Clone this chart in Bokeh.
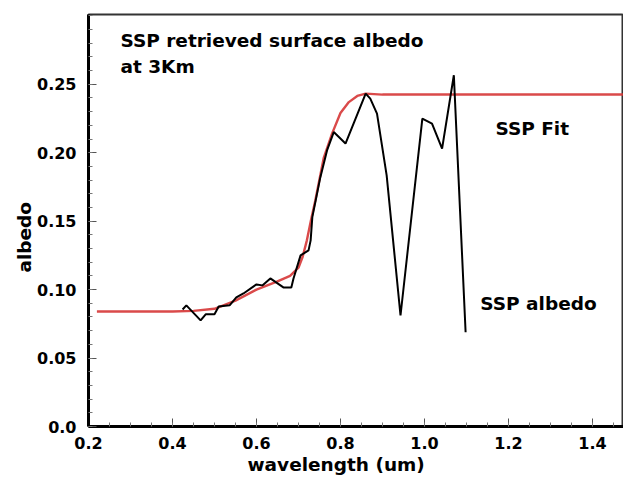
from bokeh.plotting import figure
from bokeh.models import Label, FixedTicker, Range1d, Title
from bokeh.embed import file_html
from bokeh.resources import INLINE

# SSP retrieved albedo (black)
albedo_wl = [0.424, 0.433, 0.467, 0.479, 0.500, 0.510, 0.536, 0.552, 0.569, 0.600,
             0.614, 0.633, 0.664, 0.683, 0.688, 0.705, 0.724, 0.729, 0.733, 0.752,
             0.768, 0.784, 0.812, 0.860, 0.871, 0.887, 0.910, 0.943, 0.995, 1.018,
             1.042, 1.070, 1.098]
albedo_val = [0.0855, 0.0885, 0.0775, 0.082, 0.082, 0.0877, 0.0885, 0.0943, 0.0972, 0.1038,
              0.1031, 0.1082, 0.1016, 0.1016, 0.108, 0.125, 0.1287, 0.136, 0.153, 0.182,
              0.2017, 0.2151, 0.2067, 0.2432, 0.2395, 0.2286, 0.1835, 0.0811, 0.2249, 0.2213,
              0.203, 0.2566, 0.0689]

# SSP fit (red)
fit_wl = [0.22, 0.30, 0.40, 0.45, 0.50, 0.55, 0.60, 0.65, 0.68, 0.70, 0.71, 0.72, 0.73,
          0.74, 0.76, 0.78, 0.80, 0.82, 0.84, 0.86, 0.90, 1.00, 1.20, 1.48]
fit_val = [0.084, 0.084, 0.084, 0.0845, 0.086, 0.092, 0.100, 0.106, 0.110, 0.116, 0.124,
           0.136, 0.151, 0.165, 0.196, 0.214, 0.229, 0.237, 0.2415, 0.2432, 0.2425, 0.2425,
           0.2425, 0.2425]

x_ticks = [0.2, 0.4, 0.6, 0.8, 1.0, 1.2, 1.4]
x_tick_labels = ["0.2", "0.4", "0.6", "0.8", "1.0", "1.2", "1.4"]
y_ticks = [0.0, 0.05, 0.10, 0.15, 0.20, 0.25]
y_tick_labels = ["0.0", "0.05", "0.10", "0.15", "0.20", "0.25"]

p = figure(width=623, height=478, output_backend="svg", toolbar_location=None,
           x_range=Range1d(0.2, 1.474), y_range=Range1d(0.0, 0.301),
           min_border_left=88, min_border_right=0, min_border_top=14, min_border_bottom=52)
p.grid.visible = False
p.outline_line_color = "#333333"
p.outline_line_width = 2
p.background_fill_color = "white"
p.border_fill_color = "white"

p.line(fit_wl, fit_val, line_color="#d63636", line_width=2.4, line_alpha=0.9)
p.line(albedo_wl, albedo_val, line_color="black", line_width=2)

xminor = [round(0.2 + 0.05 * i, 3) for i in range(26)]
yminor = [round(0.01 * i, 3) for i in range(31)]
p.xaxis.ticker = FixedTicker(ticks=x_ticks, minor_ticks=xminor)
p.yaxis.ticker = FixedTicker(ticks=y_ticks, minor_ticks=yminor)
p.xaxis.major_label_overrides = {t: l for t, l in zip(x_ticks, x_tick_labels)}
p.yaxis.major_label_overrides = {t: l for t, l in zip(y_ticks, y_tick_labels)}

for ax in (p.xaxis[0], p.yaxis[0]):
    ax.axis_line_width = 3
    ax.axis_line_color = "black"
    ax.major_tick_in = 8
    ax.major_tick_out = 0
    ax.minor_tick_in = 4
    ax.minor_tick_out = 0
    ax.major_tick_line_color = "#555555"
    ax.minor_tick_line_color = "#777777"
    ax.major_label_text_font = "DejaVu Sans"
    ax.major_label_text_font_style = "bold"
    ax.major_label_text_font_size = "16px"
    ax.major_label_text_color = "black"
p.xaxis.major_label_standoff = 10
p.yaxis.major_label_standoff = 12

def add_text(x, y, txt, size="18.5px"):
    p.add_layout(Label(x=x, y=y, text=txt, text_font="DejaVu Sans", text_font_style="bold",
                       text_font_size=size, text_color="black",
                       text_align="left", text_baseline="alphabetic"))

add_text(0.276, 0.282, "SSP retrieved surface albedo")
add_text(0.276, 0.263, "at 3Km")
add_text(1.169, 0.218, "SSP Fit")
add_text(1.133, 0.090, "SSP albedo")

p.add_layout(Title(text="wavelength (um)", align="left", offset=159, standoff=0,
                   text_font="DejaVu Sans", text_font_style="bold",
                   text_font_size="18.5px", text_color="black"), "below")
p.add_layout(Title(text="albedo", align="left", offset=154, standoff=0,
                   text_font="DejaVu Sans", text_font_style="bold",
                   text_font_size="18.5px", text_color="black"), "left")

open("out.html", "w").write(file_html(p, INLINE))
